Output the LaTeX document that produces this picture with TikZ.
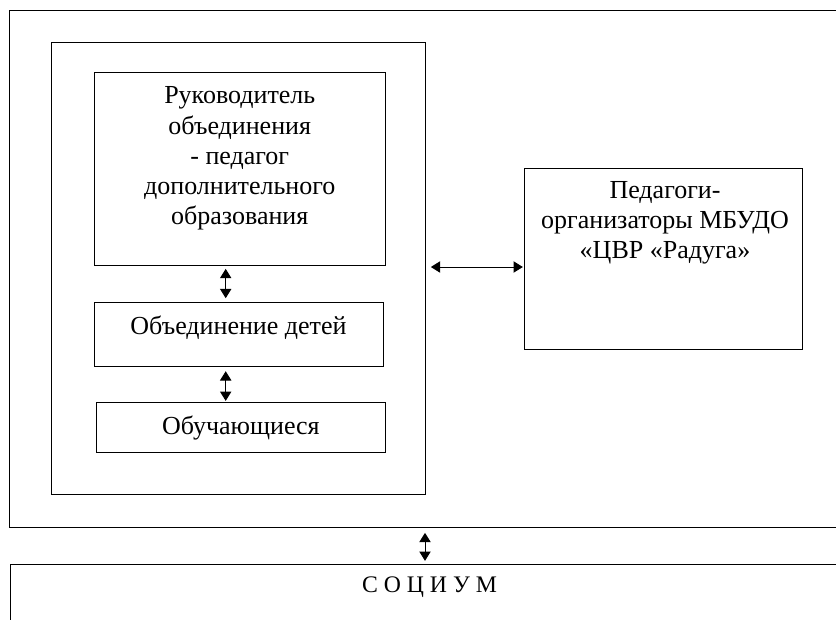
\documentclass[tikz,border=0pt]{standalone}
\usepackage{fontspec}
\setmainfont{Liberation Serif}
\usetikzlibrary{arrows.meta}

\begin{document}
\begin{tikzpicture}[x=0.75pt, y=-0.75pt, >={Triangle[length=7pt,width=8.5pt]},
    caixa/.style={draw, line width=0.75pt, inner sep=0pt},
    texto/.style={align=center, inner sep=0pt, font=\fontsize{19.5}{22.6}\selectfont},
    seta/.style={<->, line width=0.75pt}]

    % Área da figura
    \useasboundingbox (0,0) rectangle (836,619);
    \clip (0,0) rectangle (836,619);

    % Caixas externas (cortadas na borda)
    \node[caixa, minimum width=831*0.75pt, minimum height=517*0.75pt] (externo) at (425,268.5) {};
    \node[caixa, minimum width=830*0.75pt, minimum height=116*0.75pt] (socium) at (425,622) {};

    % Caixa interna e seus blocos
    \node[caixa, minimum width=374*0.75pt, minimum height=452*0.75pt] (interno) at (238,268) {};
    \node[caixa, minimum width=291.5*0.75pt, minimum height=193.7*0.75pt] (lider) at (239.75,168.85) {};
    \node[caixa, minimum width=289*0.75pt, minimum height=64*0.75pt] (grupo) at (238.5,334.7) {};
    \node[caixa, minimum width=288.3*0.75pt, minimum height=49.3*0.75pt] (alunos) at (240.85,427.35) {};

    % Caixa à direita
    \node[caixa, minimum width=278*0.75pt, minimum height=181*0.75pt] (pedagogos) at (663,258.5) {};

    % Textos
    \node[texto] (liderTxt) at (239.75,158.5) {Руководитель\\объединения\\- педагог\\дополнительного\\образования};
    \node[texto] (grupoTxt) at (238.5,327.5) {Объединение детей};
    \node[texto] (alunosTxt) at (240.85,427.5) {Обучающиеся};
    \node[texto] (pedagogosTxt) at (665,222.5) {Педагоги-\\организаторы МБУДО\\«ЦВР «Радуга»};
    \node[texto, font=\fontsize{17.8}{21}\selectfont] (sociumTxt) at (429.5,587) {С О Ц И У М};

    % Setas
    \coordinate (ax) at (225.7,0);
    \coordinate (hy) at (0,267);
    \draw[seta, shorten <=2pt, shorten >=3pt] (lider.south -| ax) -- (grupo.north -| ax);
    \draw[seta, shorten <=3pt, shorten >=1pt] (grupo.south -| ax) -- (alunos.north -| ax);
    \draw[seta, shorten <=4pt, shorten >=0.5pt] (interno.east |- hy) -- (pedagogos.west |- hy);
    \draw[seta, shorten <=4pt, shorten >=2pt] (externo.south) -- (socium.north);

\end{tikzpicture}
\end{document}
